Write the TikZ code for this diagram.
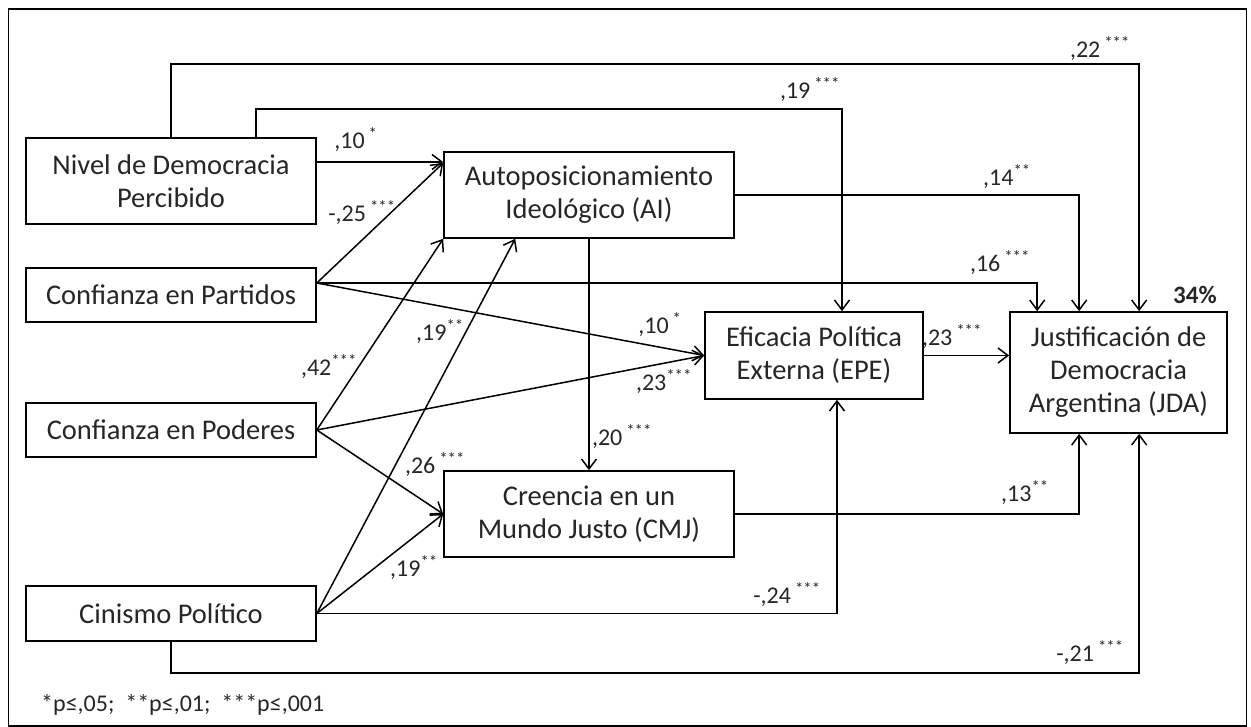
\documentclass[tikz,border=0pt]{standalone}
\usepackage{fontspec}
\setmainfont{Carlito}
\usetikzlibrary{arrows.meta,calc}
\newcommand\coefl[2]{#1\,\textsuperscript{#2}}
\begin{document}
\begin{tikzpicture}[x=1pt,y=-1pt,
  box/.style={draw,line width=1.6pt,inner sep=0pt,align=center,text=black!85,
    font=\fontsize{28.5}{33}\selectfont},
  arr/.style={line width=1.5pt,-{Straight Barb[length=10pt,width=15pt]}},
  coef/.style={inner sep=1pt,text=black!85,font=\fontsize{24}{26}\selectfont}]
\useasboundingbox (0,0) rectangle (1251,727);
\draw[line width=1.6pt] (8.5,9) rectangle (1246.5,726);

% variables
\node[box,minimum width=290pt,minimum height=86pt] (niv) at (171,181) {Nivel de Democracia\\Percibido};
\node[box,minimum width=290pt,minimum height=86pt] (ai) at (589,195) {Autoposicionamiento\\Ideológico (AI)};
\node[box,minimum width=290pt,minimum height=54pt] (par) at (171,295) {Confianza en Partidos};
\node[box,minimum width=290pt,minimum height=54pt] (pod) at (171,430) {Confianza en Poderes};
\node[box,minimum width=290pt,minimum height=55pt] (cin) at (171,613.5) {Cinismo Político};
\node[box,minimum width=290pt,minimum height=86pt] (cmj) at (589,514) {Creencia en un\\Mundo Justo (CMJ)};
\node[box,minimum width=218pt,minimum height=87pt] (epe) at (814,355.5) {Eficacia Política\\Externa (EPE)};
\node[box,minimum width=217pt,minimum height=121pt] (jda) at (1118.5,372.5) {Justificación de\\Democracia\\Argentina (JDA)};

% ports and rails
\coordinate (pout) at ($(par.east)+(0,-12)$);
\coordinate (nout) at ($(niv.east)+(0,-19)$);
\coordinate (nup2) at ($(niv.north west)+(231,0)$);
\coordinate (jdaT1) at ($(jda.north west)+(28,0)$);
\coordinate (jdaT2) at ($(jda.north west)+(70,0)$);
\coordinate (jdaT3) at ($(jda.north west)+(130,0)$);
\coordinate (jdaB2) at ($(jda.south west)+(70,0)$);
\coordinate (jdaB3) at ($(jda.south west)+(130,0)$);
\coordinate (epeT) at ($(epe.north)+(28,0)$);
\coordinate (epeB) at ($(epe.south)+(23,0)$);
\coordinate (aiB2) at ($(ai.south west)+(72,0)$);
\coordinate (aiL) at ($(ai.west)+(0,-32)$);
\coordinate (rail1) at (600,64);
\coordinate (rail2) at (600,109);
\coordinate (rail3) at (600,673);

% paths
\draw[arr] (niv.north) |- (rail1) -| (jdaT3);
\draw[arr] (nup2) |- (rail2) -| (epeT);
\draw[arr] (nout) -- (nout -| ai.west);
\draw[arr] (ai.east) -| (jdaT2);
\draw[arr] (pout) -- (aiL);
\draw[arr] (pout) -| (jdaT1);
\draw[arr] (pout) -- (epe.west);
\draw[arr] (pod.east) -- (ai.south west);
\draw[arr] (pod.east) -- (epe.west);
\draw[arr] (pod.east) -- (cmj.west);
\draw[arr] (cin.east) -- (aiB2);
\draw[arr] (cin.east) -- (cmj.west);
\draw[arr] (cin.east) -| (epeB);
\draw[arr] (cin.south) |- (rail3) -| (jdaB3);
\draw[arr] (ai.south) -- (cmj.north);
\draw[arr] (cmj.east) -| (jdaB2);
\draw[arr] (epe.east) -- (epe.east -| jda.west);

% coefficients
\node[coef] (c1) at (1100,49) {\coefl{,22}{***}};
\node[coef] (c2) at (810,90) {\coefl{,19}{***}};
\node[coef] (c3) at (356,140) {\coefl{,10}{*}};
\node[coef] (c4) at (362,213) {\coefl{-,25}{***}};
\node[coef] (c5) at (1007,177) {,14\textsuperscript{**}};
\node[coef] (c6) at (1000,263) {\coefl{,16}{***}};
\node[coef] (c7) at (440,332) {,19\textsuperscript{**}};
\node[coef] (c8) at (329,367) {,42\textsuperscript{***}};
\node[coef] (c9) at (660,325) {\coefl{,10}{*}};
\node[coef] (c10) at (664,382) {,23\textsuperscript{***}};
\node[coef] (c11) at (952,337) {\coefl{,23}{***}};
\node[coef] (c12) at (622,437) {\coefl{,20}{***}};
\node[coef] (c13) at (435,465) {\coefl{,26}{***}};
\node[coef] (c14) at (414,568) {,19\textsuperscript{**}};
\node[coef] (c15) at (1025,493) {,13\textsuperscript{**}};
\node[coef] (c16) at (787,595) {\coefl{-,24}{***}};
\node[coef] (c17) at (1090,653) {\coefl{-,21}{***}};
\node[font=\fontsize{25}{27}\selectfont\bfseries,text=black!85,inner sep=0pt] (r2) at (1195,295) {34\%};
\node[coef,anchor=west] (note) at (40,705) {*p≤,05;\ \ **p≤,01;\ \ ***p≤,001};
\end{tikzpicture}
\end{document}
